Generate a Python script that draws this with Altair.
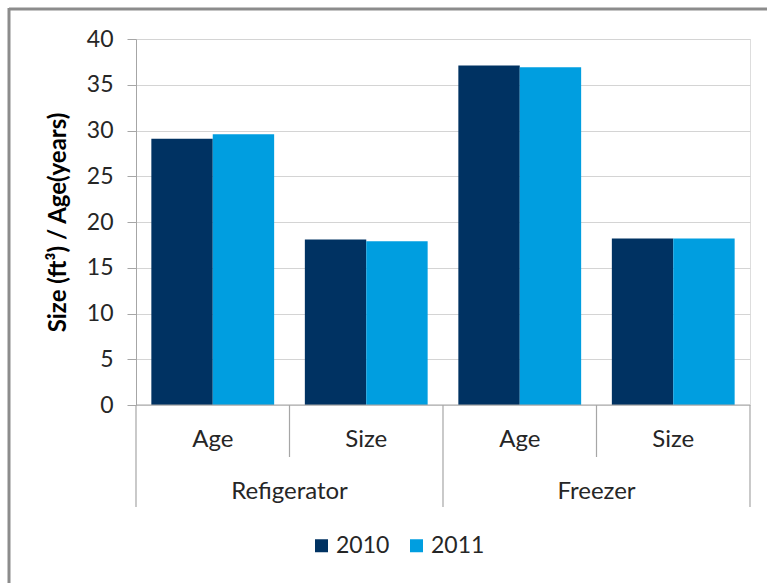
import altair as alt
import pandas as pd

# --- data -------------------------------------------------------------
programs = ["Refigerator", "Freezer"]
metrics = ["Age", "Size"]
years = ["2010", "2011"]
# order: Refigerator Age, Refigerator Size, Freezer Age, Freezer Size
values_2010 = [29.1, 18.1, 37.1, 18.2]
values_2011 = [29.6, 17.9, 36.9, 18.2]
y_ticks = [0, 5, 10, 15, 20, 25, 30, 35, 40]
colors = ["#003262", "#009EE0"]
title_text = "Figure 5: Appliance Age and Size by Program Year"
y_title = "Size (ft³) / Age(years)"

FONT = "Lato"
W, H = 614, 366

slots = [f"{p}|{m}" for p in programs for m in metrics]
slot_metric = [m for p in programs for m in metrics]

rows = []
for slot, v10, v11 in zip(slots, values_2010, values_2011):
    rows.append({"slot": slot, "year": years[0], "value": v10})
    rows.append({"slot": slot, "year": years[1], "value": v11})
bars_df = pd.DataFrame(rows)

sub_df = pd.DataFrame({"slot": slots, "label": slot_metric})
group_df = pd.DataFrame({"slot": [f"{p}|{metrics[1]}" for p in programs],
                         "label": programs})
short_sep_df = pd.DataFrame({"slot": [f"{p}|{metrics[1]}" for p in programs]})
tall_sep_df = pd.DataFrame({"slot": [f"{p}|{metrics[0]}" for p in programs]})
end_sep_df = pd.DataFrame({"slot": [slots[-1]]})
title_df = pd.DataFrame({"t": [title_text]})

x_scale = alt.Scale(domain=slots, paddingInner=0, paddingOuter=0)
AXIS_GRAY = "#A6A6A6"
TEXT = "#262626"

# --- bars -------------------------------------------------------------
bars = alt.Chart(bars_df).mark_bar().encode(
    x=alt.X("slot:N", scale=x_scale, axis=None),
    xOffset=alt.XOffset("year:N", scale=alt.Scale(domain=years, paddingInner=0,
                                                   paddingOuter=0.25)),
    y=alt.Y("value:Q",
            scale=alt.Scale(domain=[0, 40], nice=False, zero=True),
            axis=alt.Axis(values=y_ticks, title=y_title, titleFont=FONT,
                          titleFontSize=24, titleFontWeight="bold",
                          titleColor="#000000", titlePadding=16,
                          labelFont=FONT, labelFontSize=23, labelColor=TEXT,
                          labelPadding=14, tickSize=9, tickColor=AXIS_GRAY,
                          domainColor=AXIS_GRAY, grid=True, gridColor="#D4D4D4",
                          gridWidth=1.2)),
    color=alt.Color("year:N", scale=alt.Scale(domain=years, range=colors),
                    legend=alt.Legend(title=None, orient="none", legendX=174,
                                      legendY=495, direction="horizontal",
                                      symbolType="square", symbolSize=169,
                                      symbolStrokeWidth=0, labelFont=FONT,
                                      labelFontSize=23, labelColor=TEXT,
                                      labelOffset=3, columnPadding=15,
                                      padding=0)),
)

# --- two-level category axis ------------------------------------------
baseline = alt.Chart(title_df).mark_rule(color=AXIS_GRAY, strokeWidth=1.2).encode(
    x=alt.value(0), x2=alt.value(W), y=alt.value(H))

short_seps = alt.Chart(short_sep_df).mark_rule(color=AXIS_GRAY, strokeWidth=1.2).encode(
    x=alt.X("slot:N", scale=x_scale, axis=None, bandPosition=0),
    y=alt.value(H), y2=alt.value(H + 52))

tall_seps = alt.Chart(tall_sep_df).mark_rule(color=AXIS_GRAY, strokeWidth=1.2).encode(
    x=alt.X("slot:N", scale=x_scale, axis=None, bandPosition=0),
    y=alt.value(H), y2=alt.value(H + 102))

end_sep = alt.Chart(end_sep_df).mark_rule(color=AXIS_GRAY, strokeWidth=1.2).encode(
    x=alt.X("slot:N", scale=x_scale, axis=None, bandPosition=1),
    y=alt.value(H), y2=alt.value(H + 102))

sub_labels = alt.Chart(sub_df).mark_text(
    font=FONT, fontSize=24, color=TEXT, baseline="middle").encode(
    x=alt.X("slot:N", scale=x_scale, axis=None, bandPosition=0.5),
    y=alt.value(H + 35), text="label:N")

group_labels = alt.Chart(group_df).mark_text(
    font=FONT, fontSize=24, color=TEXT, baseline="middle").encode(
    x=alt.X("slot:N", scale=x_scale, axis=None, bandPosition=0),
    y=alt.value(H + 87), text="label:N")

# --- frame and heading ------------------------------------------------
frame_top = alt.Chart(title_df).mark_rule(color="#8C8C8C", strokeWidth=3).encode(
    x=alt.value(-127), x2=alt.value(W + 20), y=alt.value(-30))
frame_left = alt.Chart(title_df).mark_rule(color="#8C8C8C", strokeWidth=3).encode(
    x=alt.value(-127), y=alt.value(-31), y2=alt.value(H + 180))

heading = alt.Chart(title_df).mark_text(
    font=FONT, fontSize=24, fontWeight="bold", align="left",
    baseline="alphabetic", color="#000000").encode(
    x=alt.value(-96), y=alt.value(-46), text="t:N")

chart = alt.layer(
    bars, baseline, short_seps, tall_seps, end_sep, sub_labels, group_labels,
    frame_top, frame_left, heading,
).properties(
    width=W, height=H,
    autosize=alt.AutoSizeParams(type="none"),
    padding={"left": 136, "top": 39, "right": 17, "bottom": 178},
).configure_view(stroke=None).configure(background="#FFFFFF")

chart.save("out.html", embed_options={"renderer": "svg", "actions": False})
